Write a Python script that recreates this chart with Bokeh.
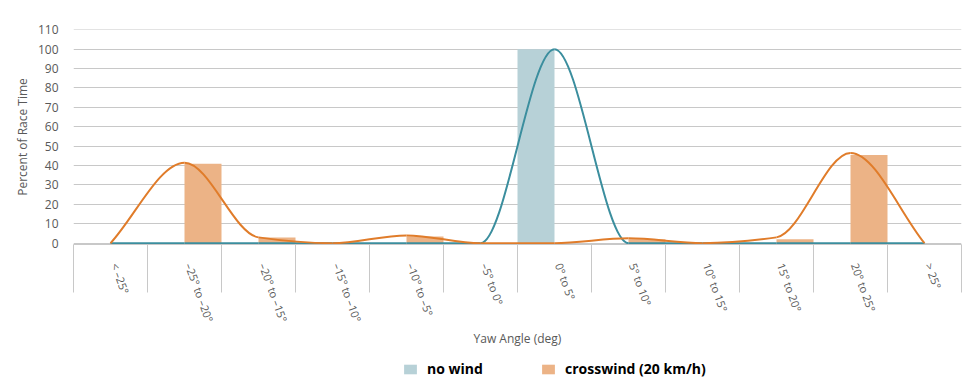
import numpy as np
from bokeh.plotting import figure
from bokeh.layouts import column
from bokeh.models import (Range1d, FixedTicker, Legend, LegendItem,
                          CustomJSTickFormatter)
from bokeh.embed import file_html
from bokeh.resources import INLINE

# ---- data ----
categories = ["< –25°", "–25° to –20°", "–20° to –15°", "–15° to –10°", "–10° to –5°",
              "–5° to 0°", "0° to 5°", "5° to 10°", "10° to 15°", "15° to 20°",
              "20° to 25°", "> 25°"]
no_wind_bars = [0, 0, 0, 0, 0, 0, 100, 0, 0, 0, 0, 0]
crosswind_bars = [0, 41, 3, 0, 3.5, 0, 0, 2, 0, 2, 45.5, 0]
no_wind_line = [0, 0, 0, 0, 0, 0, 100, 0, 0, 0, 0, 0]
crosswind_line = [0, 41.5, 3, 0, 4, 0, 0, 2.5, 0, 3, 46.5, 0]
y_ticks = [0, 10, 20, 30, 40, 50, 60, 70, 80, 90, 100, 110]
series_names = ["no wind", "crosswind (20 km/h)"]

FONT = "Open Sans"
GREY = "#595959"
GRID = "#c8c8c8"
NOWIND_BAR = "#b7d1d7"
CROSS_BAR = "#ecb386"
NOWIND_LINE = "#3b8e9e"
CROSS_LINE = "#e07c2a"
LABEL_SHIFT = 0.06   # category-label anchor sits slightly right of centre

n = len(categories)
idx = np.arange(n)
centers = idx + 0.5
bounds = np.arange(n + 1)


def tangents(y):
    """Monotone (Fritsch-Carlson) tangents for equally spaced points."""
    y = np.asarray(y, dtype=float)
    d = np.diff(y)
    m = np.zeros_like(y)
    for k in range(1, len(y) - 1):
        if d[k - 1] * d[k] > 0:
            m[k] = 2.0 / (1.0 / d[k - 1] + 1.0 / d[k])
    m[0] = d[0]
    m[-1] = d[-1]
    return m


def smooth_curve(p, xs, ys, color):
    ys = np.asarray(ys, dtype=float)
    m = tangents(ys)
    x0 = xs[:-1]
    x1 = xs[1:]
    h = x1 - x0
    p.bezier(x0=x0, y0=ys[:-1], x1=x1, y1=ys[1:],
             cx0=x0 + h / 3.0, cy0=ys[:-1] + m[:-1] / 3.0,
             cx1=x1 - h / 3.0, cy1=ys[1:] - m[1:] / 3.0,
             line_color=color, line_width=2)


# ---------------- main chart ----------------
p = figure(width=963, height=359, output_backend="svg", toolbar_location=None,
           x_range=Range1d(0, n), y_range=Range1d(-0.67, 110.15),
           min_border_left=73, min_border_right=2, min_border_top=29,
           min_border_bottom=115)
p.outline_line_color = None
p.background_fill_color = "white"
p.border_fill_color = "white"
p.xgrid.visible = False
p.ygrid.ticker = FixedTicker(ticks=y_ticks)
p.ygrid.grid_line_color = GRID
p.ygrid.grid_line_width = 1

ya = p.yaxis[0]
ya.ticker = FixedTicker(ticks=y_ticks)
ya.axis_line_color = None
ya.major_tick_line_color = None
ya.minor_tick_line_color = None
ya.major_tick_out = 0
ya.major_tick_in = 0
ya.major_label_standoff = 15
ya.major_label_text_font = FONT
ya.major_label_text_font_size = "12px"
ya.major_label_text_color = GREY
ya.axis_label = "Percent of Race Time"
ya.axis_label_text_font = FONT
ya.axis_label_text_font_size = "12px"
ya.axis_label_text_font_style = "normal"
ya.axis_label_text_color = GREY
ya.axis_label_standoff = 4

xa = p.xaxis[0]
xa.ticker = FixedTicker(ticks=list(centers + LABEL_SHIFT), minor_ticks=list(bounds))
xa.formatter = CustomJSTickFormatter(args=dict(labels=categories),
                                     code="return labels[Math.floor(tick)];")
xa.axis_line_color = GRID
xa.major_tick_line_color = None
xa.major_tick_out = 0
xa.major_tick_in = 0
xa.minor_tick_line_color = GRID
xa.minor_tick_out = 48
xa.minor_tick_in = 0
xa.major_label_orientation = -70 * np.pi / 180
xa.major_label_standoff = -29
xa.major_label_text_font = FONT
xa.major_label_text_font_size = "11px"
xa.major_label_text_color = GREY
xa.axis_label = "Yaw Angle (deg)"
xa.axis_label_text_font = FONT
xa.axis_label_text_font_size = "12px"
xa.axis_label_text_font_style = "normal"
xa.axis_label_text_color = GREY
xa.axis_label_standoff = 0

# bars
p.vbar(x=idx + 0.25, top=no_wind_bars, bottom=0, width=0.5,
       fill_color=NOWIND_BAR, line_color=None)
p.vbar(x=idx + 0.75, top=crosswind_bars, bottom=0, width=0.5,
       fill_color=CROSS_BAR, line_color=None)

# smoothed lines
smooth_curve(p, centers, no_wind_line, NOWIND_LINE)
smooth_curve(p, centers, crosswind_line, CROSS_LINE)

# ---------------- legend strip ----------------
lf = figure(width=963, height=22, output_backend="svg", toolbar_location=None,
            x_range=Range1d(0, 1), y_range=Range1d(0, 1),
            x_axis_location=None, y_axis_location=None, min_border=0)
lf.outline_line_color = None
lf.background_fill_color = "white"
lf.border_fill_color = "white"
lf.xgrid.visible = False
lf.ygrid.visible = False
# legend swatch renderers: zero-height bars (nothing drawn in the strip)
r1 = lf.vbar(x=[0.5], top=[0], bottom=[0], width=0.1, fill_color=NOWIND_BAR,
             line_color=None)
r2 = lf.vbar(x=[0.5], top=[0], bottom=[0], width=0.1, fill_color=CROSS_BAR,
             line_color=None)
legend = Legend(items=[LegendItem(label=series_names[0], renderers=[r1]),
                       LegendItem(label=series_names[1], renderers=[r2])],
                orientation="horizontal", location=(329, 3),
                glyph_width=16, glyph_height=12, label_standoff=9, spacing=13,
                label_width=100, padding=0, margin=0,
                border_line_color=None, background_fill_alpha=0,
                label_text_font=FONT, label_text_font_style="bold",
                label_text_font_size="14px", label_text_color="black")
lf.add_layout(legend)

layout = column(p, lf, spacing=0)
open("out.html", "w").write(file_html(layout, INLINE))
